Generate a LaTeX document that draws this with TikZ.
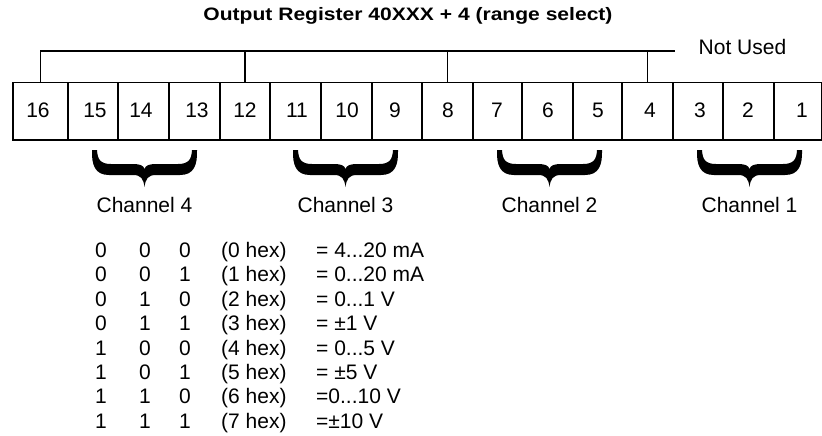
\documentclass[tikz,border=0pt]{standalone}
\usepackage{fontspec}
\setmainfont{Liberation Sans}
\begin{document}
\begin{tikzpicture}[x=1pt,y=-1pt,
  wire/.style={line width=1.5pt},
  cell/.style={draw, line width=1.5pt, minimum height=57pt, inner sep=0pt, anchor=north west},
  txt/.style={font=\fontsize{21}{25}\selectfont, inner sep=0pt},
  ttl/.style={font=\fontsize{18}{22}\selectfont\bfseries, inner sep=0pt, xscale=1.17}
]
\useasboundingbox (0,0) rectangle (822,436);
% title
\node[ttl, anchor=base] (title) at (408,21) {Output Register 40XXX + 4 (range select)};
% cells
\foreach \n/\xl/\xr in {16/12/67, 15/67/117, 14/117/168, 13/168/219, 12/219/269, 11/269/320, 10/320/371, 9/371/421, 8/421/472, 7/472/521, 6/521/572, 5/572/621, 4/621/672, 3/672/722, 2/722/773, 1/773/821}{
  \pgfmathsetmacro\w{\xr-\xl}
  \node[cell, minimum width=\w pt] (c\n) at (\xl,82) {};
}
% cell numbers
\foreach \n/\x in {16/38, 15/95, 14/141, 13/197, 12/245, 11/297, 10/347, 9/395, 8/448, 7/497, 6/548, 5/598, 4/650, 3/700, 2/748, 1/802}{
  \node[txt, anchor=base] (n\n) at (\x,117.5) {\n};
}
% not used bracket
\coordinate (nu) at (675,51);
\node[txt, anchor=base] (notused) at (742.5,55) {Not Used};
\draw[wire] (c16.north) |- (nu);
\draw[wire] (c12.north) -- (c12.north |- nu);
\draw[wire] (c8.north) -- (c8.north |- nu);
\draw[wire] (c4.north) -- (c4.north |- nu);
% braces and channel labels
\foreach \x/\n in {92/4, 293/3, 497/2, 697/1}{
  \fill[shift={(\x,150)}]
    (0,0) .. controls (-0.5,15) and (3,25) .. (17,25) -- (41,25)
    .. controls (49,25) and (51.5,29) .. (52.5,37)
    .. controls (53.5,29) and (56,25) .. (64,25) -- (88,25)
    .. controls (102,25) and (105.5,15) .. (105,0) -- (100,0)
    .. controls (99.5,9) and (97,14) .. (86,14) -- (64,14)
    .. controls (57,14) and (53.5,15.5) .. (52.5,19)
    .. controls (51.5,15.5) and (48,14) .. (41,14) -- (19,14)
    .. controls (8,14) and (5.5,9) .. (5,0) -- cycle;
  \node[txt, anchor=base] (ch\n) at (\x+52.5,212) {Channel \n};
}
% table
\foreach \i/\a/\b/\c/\h/\v in {
  0/0/0/0/0/{= 4...20 mA},
  1/0/0/1/1/{= 0...20 mA},
  2/0/1/0/2/{= 0...1 V},
  3/0/1/1/3/{= ±1 V},
  4/1/0/0/4/{= 0...5 V},
  5/1/0/1/5/{= ±5 V},
  6/1/1/0/6/{=0...10 V},
  7/1/1/1/7/{=±10 V}}{
  \pgfmathsetmacro\yy{257.5+24.4*\i}
  \node[txt, anchor=base] (ra\i) at (101,\yy) {\a};
  \node[txt, anchor=base] (rb\i) at (145,\yy) {\b};
  \node[txt, anchor=base] (rc\i) at (185,\yy) {\c};
  \node[txt, anchor=base west] (rh\i) at (221,\yy) {(\h\ hex)};
  \node[txt, anchor=base west] (rv\i) at (316,\yy) {\v};
}
\end{tikzpicture}
\end{document}
